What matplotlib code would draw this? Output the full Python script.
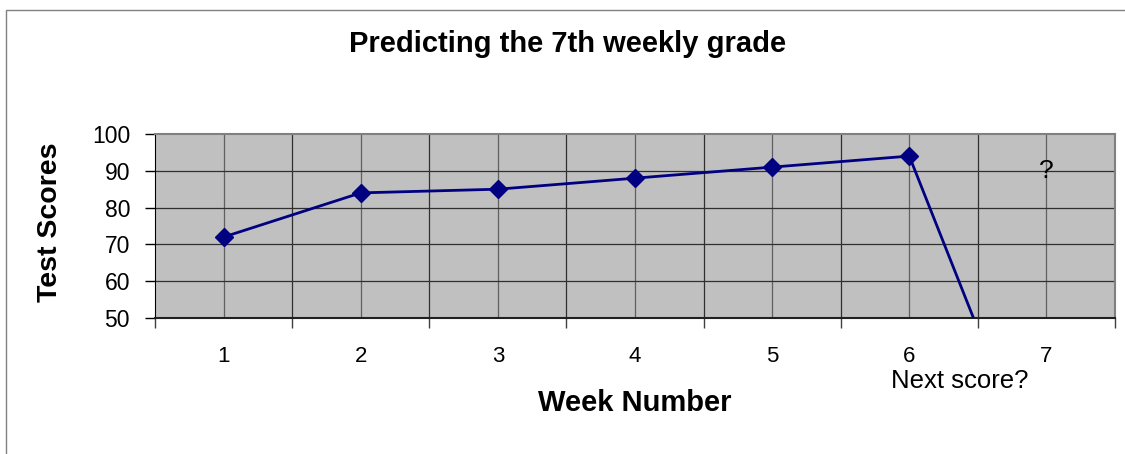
import numpy as np
import matplotlib
matplotlib.use("Agg")
import matplotlib.pyplot as plt
from matplotlib.patches import Rectangle

plt.rcParams['font.family'] = ['Liberation Sans', 'DejaVu Sans']

# datos
semanas = [1, 2, 3, 4, 5, 6, 7]
notas = [72, 84, 85, 88, 91, 94, 0]   # la semana 7 esta vacia -> se dibuja como 0
etiquetas_x = [str(s) for s in semanas]
ticks_y = [50, 60, 70, 80, 90, 100]

fig = plt.figure(figsize=(11.25, 4.54), dpi=100)
fig.patch.set_facecolor('white')

# marco exterior del grafico
fig.patches.append(Rectangle((6 / 1125, -0.2), 1.2, 1.2 - 10 / 454,
                             transform=fig.transFigure, fill=False,
                             edgecolor='#808080', linewidth=1.0))

ax = fig.add_axes([155 / 1125, 1 - 318 / 454, (1115 - 155) / 1125, (318 - 134) / 454])
ax.set_facecolor('#C0C0C0')

ax.set_xlim(0.5, 7.5)
ax.set_ylim(50, 100)

# rejilla: limites de categoria y centros
for x in np.arange(1.5, 7.5, 1.0):
    ax.axvline(x, color='#303030', linewidth=0.9, zorder=1)
for x in semanas:
    ax.axvline(x, color='#606060', linewidth=0.9, zorder=1)
for y in ticks_y[1:-1]:
    ax.axhline(y, color='#303030', linewidth=0.9, zorder=1)

ax.plot(semanas, notas, color='#000080', linewidth=2, marker='D',
        markersize=9, zorder=3, clip_on=True)

# ejes
ax.set_yticks(ticks_y)
ax.set_yticklabels([str(t) for t in ticks_y], fontsize=16.5)
ax.tick_params(axis='y', direction='out', length=7, width=1, pad=11)

ax.set_xticks(np.arange(0.5, 8.0, 1.0))
ax.set_xticklabels([])
ax.tick_params(axis='x', direction='out', length=7, width=1, color='#404040')
for s, lab in zip(semanas, etiquetas_x):
    ax.text(s, 50 - 38 * 50 / 184, lab, fontsize=16, ha='center', va='center',
            clip_on=False)

for lado in ['top', 'right']:
    ax.spines[lado].set_color('#808080')
    ax.spines[lado].set_linewidth(1.5)
ax.spines['left'].set_color('black')
ax.spines['bottom'].set_color('#202020')
ax.spines['bottom'].set_linewidth(1.5)

ax.text(7, 90, '?', fontsize=19, ha='center', va='center')
ax.text(6.37, 50 - 63 * 50 / 184, 'Next score?', fontsize=18.5, ha='center',
        va='center', clip_on=False)

fig.text(568 / 1125, 1 - 44 / 454, 'Predicting the 7th weekly grade',
         fontsize=21, fontweight='bold', ha='center', va='center')
fig.text(635 / 1125, 1 - 403 / 454, 'Week Number', fontsize=21,
         fontweight='bold', ha='center', va='center')
fig.text(50 / 1125, 1 - 222 / 454, 'Test Scores', fontsize=20.5,
         fontweight='bold', ha='center', va='center', rotation=90)

plt.savefig('out.png', dpi=100)
plt.close()
